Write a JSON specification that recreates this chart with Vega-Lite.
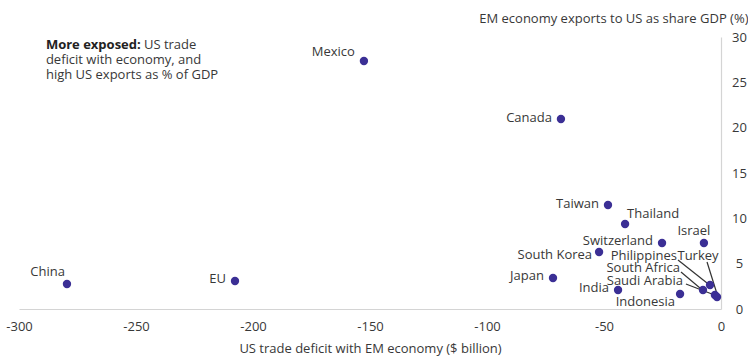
{
  "$schema": "https://vega.github.io/schema/vega-lite/v6.json",
  "width": 702,
  "height": 272,
  "autosize": {"type": "none"},
  "padding": {"left": 19, "top": 37, "right": 27, "bottom": 51},
  "background": "white",
  "config": {
    "view": {"stroke": null},
    "font": "Open Sans",
    "text": {"font": "Open Sans", "fontSize": 13, "color": "#383838"}
  },
  "datasets": {
    "countries": [
      {"country": "Mexico", "deficit": -152.6, "exports": 27.35},
      {"country": "Canada", "deficit": -68.4, "exports": 20.95},
      {"country": "Taiwan", "deficit": -48.3, "exports": 11.47},
      {"country": "Thailand", "deficit": -41.0, "exports": 9.37},
      {"country": "Switzerland", "deficit": -25.2, "exports": 7.28},
      {"country": "Israel", "deficit": -7.3, "exports": 7.28},
      {"country": "South Korea", "deficit": -52.1, "exports": 6.29},
      {"country": "Japan", "deficit": -71.8, "exports": 3.42},
      {"country": "India", "deficit": -44.0, "exports": 2.1},
      {"country": "Indonesia", "deficit": -17.5, "exports": 1.65},
      {"country": "Philippines", "deficit": -4.7, "exports": 2.65},
      {"country": "South Africa", "deficit": -7.7, "exports": 2.1},
      {"country": "Saudi Arabia", "deficit": -2.6, "exports": 1.54},
      {"country": "Turkey", "deficit": -1.7, "exports": 1.32},
      {"country": "China", "deficit": -279.5, "exports": 2.76},
      {"country": "EU", "deficit": -207.7, "exports": 3.09}
    ],
    "note": [
      {"deficit": -288.5, "exports": 29.1}
    ]
  },
  "encoding": {
    "x": {
      "field": "deficit", "type": "quantitative",
      "scale": {"domain": [-300, 0], "nice": false},
      "axis": {
        "title": "US trade deficit with EM economy ($ billion)",
        "values": [-300, -250, -200, -150, -100, -50, 0],
        "labelExpr": "'' + datum.value",
        "labelFlush": false,
        "grid": false, "ticks": false, "tickSize": 0,
        "domainColor": "#d4d4d4", "domainWidth": 1.2,
        "labelFont": "Open Sans", "labelFontSize": 13, "labelColor": "#383838",
        "labelPadding": 11,
        "titleFont": "Open Sans", "titleFontSize": 13, "titleFontWeight": "normal", "titleColor": "#383838",
        "titlePadding": 9
      }
    },
    "y": {
      "field": "exports", "type": "quantitative",
      "scale": {"domain": [0, 30], "nice": false},
      "axis": {
        "orient": "right",
        "title": "EM economy exports to US as share GDP (%)",
        "values": [0, 5, 10, 15, 20, 25, 30],
        "labelFlush": false,
        "grid": false, "ticks": false, "tickSize": 0,
        "domainColor": "#d4d4d4", "domainWidth": 1.2,
        "labelFont": "Open Sans", "labelFontSize": 13, "labelColor": "#383838",
        "labelAlign": "center", "labelBaseline": "middle", "labelPadding": 18,
        "titleFont": "Open Sans", "titleFontSize": 13, "titleFontWeight": "normal", "titleColor": "#383838",
        "titleAngle": 0, "titleAlign": "right", "titleBaseline": "middle",
        "titleX": 27, "titleY": -19
      }
    }
  },
  "layer": [
    {
      "data": {"name": "countries"},
      "transform": [{"filter": "datum.country == 'Philippines'"}],
      "mark": {"type": "rule", "color": "#333333", "strokeWidth": 1.2, "xOffset": -32, "yOffset": -25, "x2Offset": -3, "y2Offset": -2},
      "encoding": {"x2": {"field": "deficit"}, "y2": {"field": "exports"}}
    },
    {
      "data": {"name": "countries"},
      "transform": [{"filter": "datum.country == 'South Africa'"}],
      "mark": {"type": "rule", "color": "#333333", "strokeWidth": 1.2, "xOffset": -22, "yOffset": -18, "x2Offset": -3, "y2Offset": -2},
      "encoding": {"x2": {"field": "deficit"}, "y2": {"field": "exports"}}
    },
    {
      "data": {"name": "countries"},
      "transform": [{"filter": "datum.country == 'Saudi Arabia'"}],
      "mark": {"type": "rule", "color": "#333333", "strokeWidth": 1.2, "xOffset": -29, "yOffset": -11, "x2Offset": -3, "y2Offset": -1},
      "encoding": {"x2": {"field": "deficit"}, "y2": {"field": "exports"}}
    },
    {
      "data": {"name": "countries"},
      "transform": [{"filter": "datum.country == 'Turkey'"}],
      "mark": {"type": "rule", "color": "#333333", "strokeWidth": 1.2, "xOffset": -10, "yOffset": -35, "x2Offset": 0, "y2Offset": -3},
      "encoding": {"x2": {"field": "deficit"}, "y2": {"field": "exports"}}
    },
    {
      "data": {"name": "countries"},
      "mark": {"type": "circle", "size": 70, "color": "#3b2f95", "opacity": 1}
    },
    {
      "data": {"name": "countries"},
      "transform": [{"filter": {"field": "country", "oneOf": ["Canada", "Taiwan", "Switzerland", "Japan", "India", "EU"]}}],
      "mark": {"type": "text", "align": "right", "baseline": "middle", "dx": -9, "dy": -1.5},
      "encoding": {"text": {"field": "country"}}
    },
    {
      "data": {"name": "countries"},
      "transform": [{"filter": "datum.country == 'South Korea'"}],
      "mark": {"type": "text", "align": "right", "baseline": "middle", "dx": -7, "dy": 3},
      "encoding": {"text": {"field": "country"}}
    },
    {
      "data": {"name": "countries"},
      "transform": [{"filter": "datum.country == 'Mexico'"}],
      "mark": {"type": "text", "align": "right", "baseline": "middle", "dx": -9, "dy": -9},
      "encoding": {"text": {"field": "country"}}
    },
    {
      "data": {"name": "countries"},
      "transform": [{"filter": "datum.country == 'China'"}],
      "mark": {"type": "text", "align": "right", "baseline": "middle", "dx": -2, "dy": -12},
      "encoding": {"text": {"field": "country"}}
    },
    {
      "data": {"name": "countries"},
      "transform": [{"filter": "datum.country == 'Thailand'"}],
      "mark": {"type": "text", "align": "left", "baseline": "middle", "dx": 2, "dy": -10},
      "encoding": {"text": {"field": "country"}}
    },
    {
      "data": {"name": "countries"},
      "transform": [{"filter": "datum.country == 'Israel'"}],
      "mark": {"type": "text", "align": "center", "baseline": "middle", "dx": -10, "dy": -12},
      "encoding": {"text": {"field": "country"}}
    },
    {
      "data": {"name": "countries"},
      "transform": [{"filter": "datum.country == 'Indonesia'"}],
      "mark": {"type": "text", "align": "right", "baseline": "middle", "dx": -5, "dy": 8},
      "encoding": {"text": {"field": "country"}}
    },
    {
      "data": {"name": "countries"},
      "transform": [{"filter": "datum.country == 'Philippines'"}],
      "mark": {"type": "text", "align": "right", "baseline": "middle", "dx": -33, "dy": -29},
      "encoding": {"text": {"field": "country"}}
    },
    {
      "data": {"name": "countries"},
      "transform": [{"filter": "datum.country == 'South Africa'"}],
      "mark": {"type": "text", "align": "right", "baseline": "middle", "dx": -23, "dy": -22},
      "encoding": {"text": {"field": "country"}}
    },
    {
      "data": {"name": "countries"},
      "transform": [{"filter": "datum.country == 'Saudi Arabia'"}],
      "mark": {"type": "text", "align": "right", "baseline": "middle", "dx": -32, "dy": -14},
      "encoding": {"text": {"field": "country"}}
    },
    {
      "data": {"name": "countries"},
      "transform": [{"filter": "datum.country == 'Turkey'"}],
      "mark": {"type": "text", "align": "center", "baseline": "middle", "dx": -19, "dy": -41},
      "encoding": {"text": {"field": "country"}}
    },
    {
      "data": {"name": "note"},
      "mark": {"type": "text", "align": "left", "baseline": "middle", "fontWeight": "bold", "text": "More exposed:", "color": "#222222"},
      "encoding": {}
    },
    {
      "data": {"name": "note"},
      "mark": {"type": "text", "align": "left", "baseline": "middle", "dx": 98, "text": "US trade", "color": "#383838"},
      "encoding": {}
    },
    {
      "data": {"name": "note"},
      "mark": {"type": "text", "align": "left", "baseline": "top", "dy": 8.5, "lineHeight": 15.5, "text": ["deficit with economy, and", "high US exports as % of GDP"], "color": "#383838"},
      "encoding": {}
    }
  ]
}
